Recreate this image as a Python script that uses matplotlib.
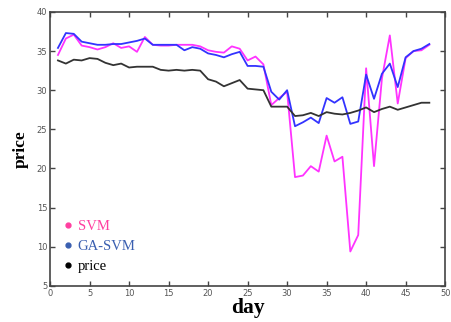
import matplotlib
matplotlib.use("Agg")
import matplotlib.pyplot as plt
from matplotlib.lines import Line2D

# ── data ──────────────────────────────────────────────────
days = list(range(1, 49))

svm = [34.5, 36.6, 37.1, 35.7, 35.5, 35.2, 35.5, 36.0, 35.4, 35.6,
       34.9, 36.8, 35.8, 35.7, 35.7, 35.8, 35.8, 35.8, 35.6, 35.1,
       34.9, 34.8, 35.6, 35.3, 33.8, 34.3, 33.3, 28.1, 29.0, 29.8,
       18.9, 19.1, 20.3, 19.6, 24.2, 20.9, 21.5, 9.4, 11.5, 32.8,
       20.3, 31.5, 37.0, 28.3, 34.1, 35.0, 35.1, 35.8]

ga_svm = [35.4, 37.3, 37.2, 36.2, 36.0, 35.8, 35.8, 35.9, 35.9, 36.1,
          36.3, 36.6, 35.8, 35.8, 35.8, 35.8, 35.1, 35.5, 35.3, 34.7,
          34.5, 34.2, 34.6, 34.9, 33.1, 33.1, 33.0, 29.8, 28.8, 30.0,
          25.4, 25.9, 26.5, 25.8, 29.0, 28.4, 29.1, 25.7, 26.0, 32.0,
          28.9, 32.1, 33.4, 30.4, 34.2, 35.0, 35.3, 35.9]

price = [33.8, 33.4, 33.9, 33.8, 34.1, 34.0, 33.5, 33.2, 33.4, 32.9,
         33.0, 33.0, 33.0, 32.6, 32.5, 32.6, 32.5, 32.6, 32.5, 31.4,
         31.1, 30.5, 30.9, 31.3, 30.2, 30.1, 30.0, 27.9, 27.9, 27.9,
         26.7, 26.8, 27.1, 26.7, 27.2, 27.0, 26.9, 27.1, 27.4, 27.8,
         27.2, 27.6, 27.9, 27.5, 27.8, 28.1, 28.4, 28.4]

x_ticks = [0, 5, 10, 15, 20, 25, 30, 35, 40, 45, 50]
y_ticks = [5, 10, 15, 20, 25, 30, 35, 40]

# ── figure ────────────────────────────────────────────────
fig = plt.figure(figsize=(4.51, 3.22), dpi=100)
ax = fig.add_axes([0.111, 0.112, 0.876, 0.851])

ax.plot(days, svm, color="#ff33ff", linewidth=1.3)
ax.plot(days, ga_svm, color="#3333ff", linewidth=1.3)
ax.plot(days, price, color="#333333", linewidth=1.3)

ax.set_xlim(0, 50)
ax.set_ylim(5, 40)
ax.set_xticks(x_ticks)
ax.set_yticks(y_ticks)
ax.tick_params(direction="in", top=True, right=True, length=3.5, width=1,
               labelsize=6, labelcolor="#555555", color="#444444", pad=2)
for spine in ax.spines.values():
    spine.set_color("#444444")
    spine.set_linewidth(1.2)

ax.set_xlabel("day", family="Liberation Serif", fontsize=15.5,
              fontweight="bold", labelpad=0)
ax.set_ylabel("price", family="Liberation Serif", fontsize=12.5,
              fontweight="bold", labelpad=6)

# legend: coloured dots + coloured text
handles = [
    Line2D([], [], linestyle="none", marker="o", markersize=3.5, color="#ff3fa0"),
    Line2D([], [], linestyle="none", marker="o", markersize=3.5, color="#3a5fb0"),
    Line2D([], [], linestyle="none", marker="o", markersize=3.5, color="black"),
]
leg = ax.legend(handles, ["SVM", "GA-SVM", "price"], loc="lower left",
                bbox_to_anchor=(0.0, 0.0), frameon=False,
                prop={"family": "Liberation Serif", "size": 10.5},
                handlelength=0.6, handletextpad=0.4, labelspacing=0.45)
for txt, c in zip(leg.get_texts(), ["#ff3fa0", "#3a5fb0", "black"]):
    txt.set_color(c)

fig.savefig("out.png", dpi=100)
